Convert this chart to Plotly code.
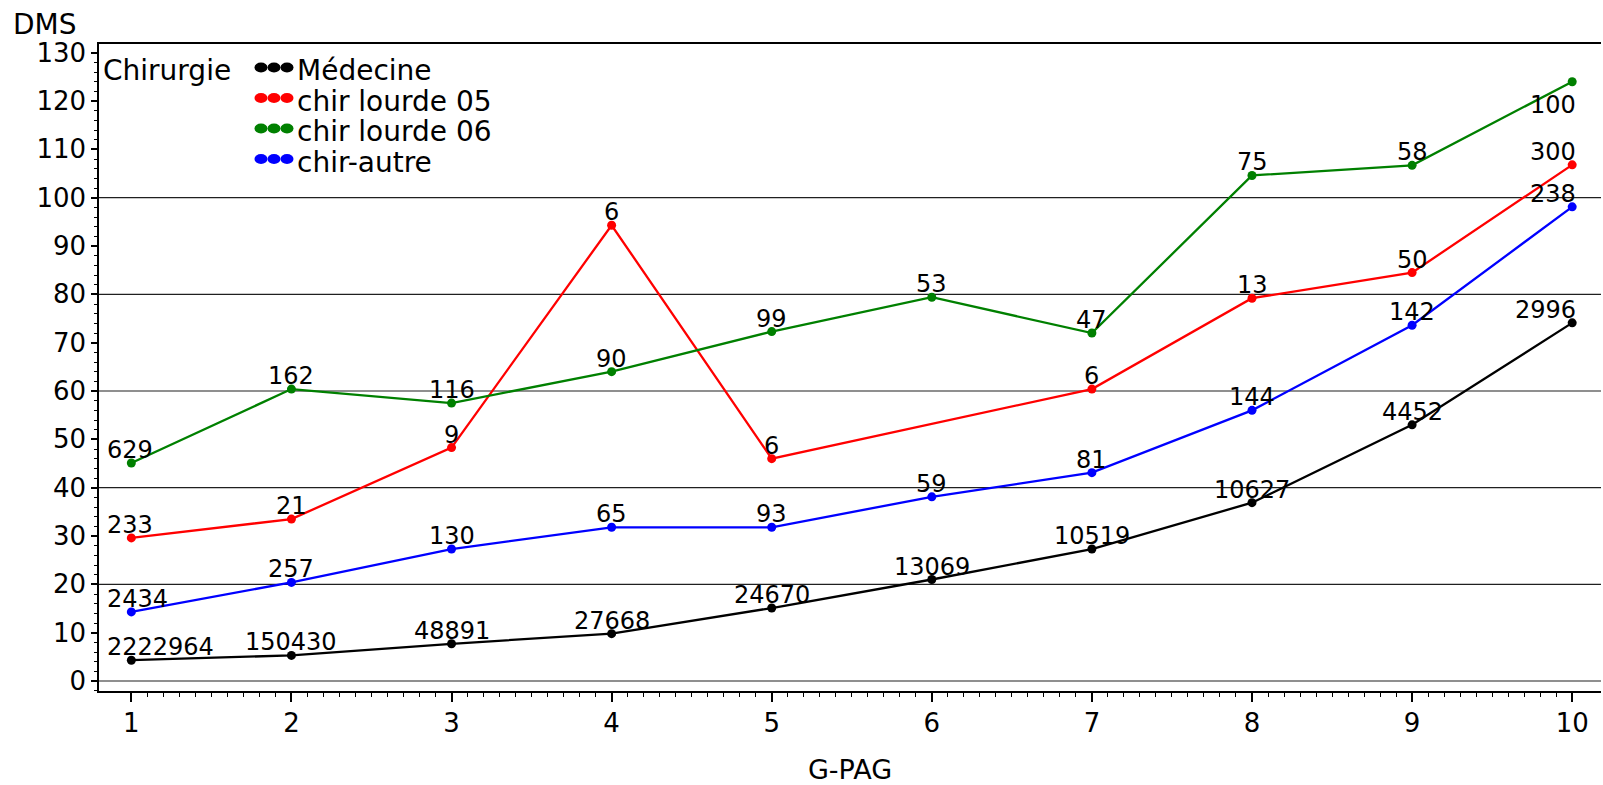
import numpy as np
import plotly.graph_objects as go

# ---- data ----
g_pag = [1, 2, 3, 4, 5, 6, 7, 8, 9, 10]
medecine = [4.3, 5.3, 7.7, 9.8, 15.1, 21.0, 27.3, 36.9, 53.0, 74.1]
medecine_n = [2222964, 150430, 48891, 27668, 24670, 13069, 10519, 10627, 4452, 2996]
chir05 = [29.6, 33.5, 48.3, 94.3, 46.0, None, 60.4, 79.2, 84.5, 106.8]
chir05_n = [233, 21, 9, 6, 6, None, 6, 13, 50, 300]
chir06 = [45.1, 60.4, 57.5, 64.0, 72.3, 79.4, 72.0, 104.6, 106.7, 124.0]
chir06_n = [629, 162, 116, 90, 99, 53, 47, 75, 58, 100]
autre = [14.3, 20.4, 27.3, 31.8, 31.8, 38.1, 43.1, 56.0, 73.6, 98.1]
autre_n = [2434, 257, 130, 65, 93, 59, 81, 144, 142, 238]

y_ticks = list(range(0, 131, 10))
grid_vals = [0, 20, 40, 60, 80, 100]
legend_title = "Chirurgie"

series = [
    ("Médecine", medecine, medecine_n, "#000000", False),
    ("chir lourde 05", chir05, chir05_n, "#ff0000", False),
    ("chir lourde 06", chir06, chir06_n, "#008000", True),
    ("chir-autre", autre, autre_n, "#0000ff", False),
]

FONT = "'DejaVu Sans', Arial, sans-serif"

# layout geometry (pixels)
ML, MT, MR, MB = 99, 44, 2, 94

fig = go.Figure()
annotations = []
shapes = []
for name, ys, ns, color, last_below in series:
    xs = [x for x, y in zip(g_pag, ys) if y is not None]
    yv = [y for y in ys if y is not None]
    nv = [n for n in ns if n is not None]
    fig.add_trace(go.Scatter(
        x=xs, y=yv, name=name, mode="lines+markers", showlegend=False,
        line=dict(color=color, width=2.3),
        marker=dict(color=color, size=9, symbol="circle"),
        cliponaxis=False,
    ))
    for x, y, n in zip(xs, yv, nv):
        a = dict(x=x, y=y, xref="x", yref="y", text=str(n), showarrow=False,
                 font=dict(family=FONT, size=24, color="black"),
                 xanchor="center", yanchor="bottom", yshift=-2, borderpad=0)
        if x == g_pag[0]:
            a.update(xanchor="left", xshift=-25)
        elif x == g_pag[-1]:
            a.update(xanchor="right", xshift=5)
            if last_below:
                a.update(yanchor="top", yshift=-8)
        annotations.append(a)

# ---- manual legend (title left, three-dot keys) ----
def top_left_text(text, px, py, size):
    return dict(text=text, xref="paper", yref="paper", x=0, y=1,
                xanchor="left", yanchor="middle", xshift=px - ML, yshift=-(py - MT),
                showarrow=False, font=dict(family=FONT, size=size, color="black"))

annotations.append(top_left_text(legend_title, 101, 70, 28))
row_y = [70.5, 101, 131.5, 162]
for (name, _, _, color, _), ry in zip(series, row_y):
    annotations.append(top_left_text(name, 295, ry, 28))
    for cx in (261, 274, 287):
        dx, dy = cx - ML, -(ry - 3 - MT)
        shapes.append(dict(type="circle", xref="paper", yref="paper",
                           xsizemode="pixel", ysizemode="pixel", xanchor=0, yanchor=1,
                           x0=dx - 6.5, x1=dx + 6.5, y0=dy - 5, y1=dy + 5,
                           fillcolor=color, line=dict(width=0)))

# y-axis title, horizontal above the axis
annotations.append(top_left_text("DMS", 11, 24, 28))

shapes += [dict(type="line", xref="paper", yref="y", x0=0, x1=1, y0=v, y1=v,
                line=dict(color="#202020", width=1.2), layer="below") for v in grid_vals]

minor_x = [round(v, 1) for v in np.arange(1.1, 10.0, 0.1) if abs(v - round(v)) > 1e-6]

fig.update_layout(
    width=1603, height=785,
    margin=dict(l=ML, r=MR, t=MT, b=MB, autoexpand=False),
    paper_bgcolor="white", plot_bgcolor="white",
    font=dict(family=FONT, size=26, color="black"),
    showlegend=False,
    annotations=annotations,
    shapes=shapes,
    xaxis=dict(
        range=[0.798, 10.18], tickmode="array", tickvals=g_pag,
        ticks="outside", ticklen=9, tickwidth=1.5, tickcolor="black",
        showline=True, linecolor="black", linewidth=1.5, mirror=True,
        showgrid=False, zeroline=False, ticklabelstandoff=-1, automargin=False,
        tickfont=dict(size=26),
        minor=dict(tickmode="array", tickvals=minor_x,
                   ticks="outside", ticklen=4, tickcolor="black", tickwidth=1, showgrid=False),
        title=dict(text="G-PAG", standoff=29, font=dict(size=27)),
    ),
    yaxis=dict(
        range=[-2.07, 131.8], tickmode="array", tickvals=y_ticks, automargin=False,
        ticks="outside", ticklen=6, tickwidth=1.5, tickcolor="black",
        showline=True, linecolor="black", linewidth=1.5,
        showgrid=False, zeroline=False, tickfont=dict(size=26),
        minor=dict(dtick=2, tick0=0, ticks="outside", ticklen=3, tickcolor="black",
                   tickwidth=1, showgrid=False),
    ),
)

fig.write_html("out.html", config={"displayModeBar": False},
               post_script="document.body.style.margin='0';document.body.style.overflow='hidden';")
